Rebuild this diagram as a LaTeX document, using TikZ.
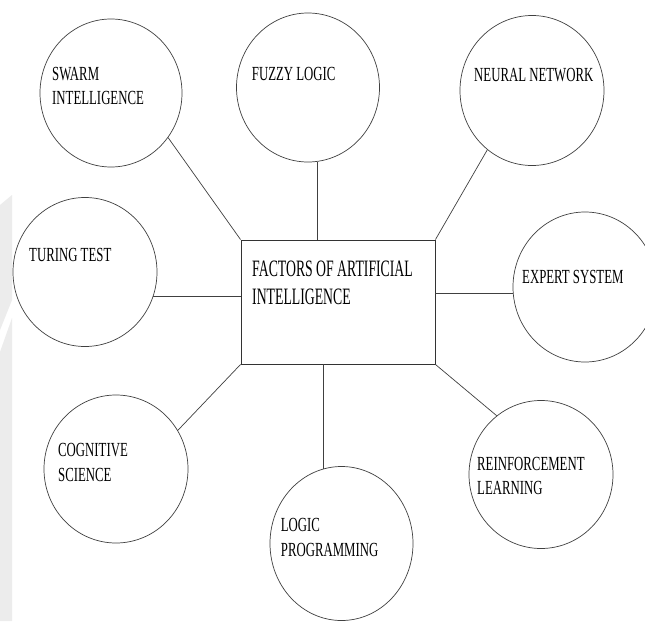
\documentclass[tikz,border=0pt]{standalone}
\usepackage{fontspec}
\usetikzlibrary{shapes.geometric}
\newfontfamily\circfont{Liberation Serif}[FakeStretch=0.64]
\newfontfamily\hubfont{Liberation Serif}[FakeStretch=0.585]
\begin{document}
\begin{tikzpicture}[x=1pt,y=-1pt,
  factor/.style={ellipse, draw=black!75, line width=0.7pt, inner sep=0pt},
  hub/.style={rectangle, draw=black!80, line width=0.95pt, inner sep=0pt,
              minimum width=194pt, minimum height=124pt},
  link/.style={draw=black!75, line width=0.7pt},
  factortext/.style={font=\circfont\fontsize{20pt}{24pt}\selectfont,
              text=black, anchor=base west, inner sep=0pt},
  hubtext/.style={font=\hubfont\fontsize{23.5pt}{28pt}\selectfont,
              text=black, anchor=base west, inner sep=0pt}]
\useasboundingbox (0,0) rectangle (645,621);
\fill[white] (0,0) rectangle (645,621);

% faint strip along the left edge
\fill[gray!15] (0,205) -- (12,195) -- (12,300) -- (0,330) -- cycle;
\fill[gray!15] (0,352) -- (12,318) -- (12,621) -- (0,621) -- cycle;

% central box
\node[hub] (bx) at (338,302) {};
\node[hubtext] (bxA) at (252,276.8) {FACTORS OF ARTIFICIAL};
\node[hubtext] (bxB) at (252,304.8) {INTELLIGENCE};

% surrounding factors
\node[factor, minimum width=142pt, minimum height=148pt] (sw) at (111,93) {};
\node[factor, minimum width=143pt, minimum height=149pt] (fz) at (308,87.5) {};
\node[factor, minimum width=144pt, minimum height=150pt] (nn) at (532,90.5) {};
\node[factor, minimum width=144pt, minimum height=149pt] (tt) at (85,272) {};
\node[factor, minimum width=144pt, minimum height=150pt] (ex) at (585,287) {};
\node[factor, minimum width=144pt, minimum height=148pt] (cg) at (116,469) {};
\node[factor, minimum width=143pt, minimum height=154pt] (lp) at (341.5,543.5) {};
\node[factor, minimum width=144pt, minimum height=148pt] (rl) at (541,474.5) {};

\node[factortext] (swA) at (52,80.6) {SWARM};
\node[factortext] (swB) at (52,104.6) {INTELLIGENCE};
\node[factortext] (fzA) at (251.7,80.6) {FUZZY LOGIC};
\node[factortext] (nnA) at (474,81.6) {NEURAL NETWORK};
\node[factortext] (ttA) at (29,261.6) {TURING TEST};
\node[factortext] (exA) at (522,283.6) {EXPERT SYSTEM};
\node[factortext] (cgA) at (58,456.6) {COGNITIVE};
\node[factortext] (cgB) at (58,481.6) {SCIENCE};
\node[factortext] (rlA) at (477,470.6) {REINFORCEMENT};
\node[factortext] (rlB) at (477,494.6) {LEARNING};
\node[factortext] (lpA) at (280.7,531.6) {LOGIC};
\node[factortext] (lpB) at (280.7,556.6) {PROGRAMMING};

% connectors
\draw[link] (sw.-38.5) -- (bx.north west);
\draw[link] (fz.-83) -- (fz.-83 |- bx.north);
\draw[link] (nn.-127) -- (bx.north east);
\draw[link] (tt.-20.7) -- (tt.-20.7 -| bx.west);
\draw[link] (ex.185.6) -- (ex.185.6 -| bx.east);
\draw[link] (cg.32) -- (bx.south west);
\draw[link] (lp.104.8) -- (lp.104.8 |- bx.south);
\draw[link] (rl.127.6) -- (bx.south east);
\end{tikzpicture}
\end{document}
